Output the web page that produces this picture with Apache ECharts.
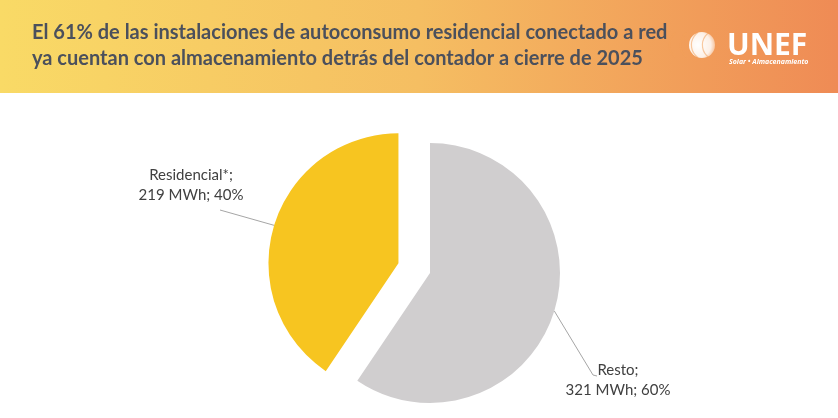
<!DOCTYPE html>
<html>
<head>
<meta charset="utf-8">
<script src="https://cdn.jsdelivr.net/npm/echarts@6/dist/echarts.min.js"></script>
<style>
  html, body { margin: 0; padding: 0; background: #fff; }
  #main { width: 838px; height: 418px; }
</style>
</head>
<body>
<div id="main"></div>
<script>
var categories = ['Resto', 'Residencial*'];
var valuesMWh = [321, 219];
var percents = [60, 40];
var colors = ['#D0CECF', '#F7C520'];

// where the two labels sit (text centre) and where their leader line bends
var labelSpots = [
  { x: 618, y: 380, bend: [593, 375], end: [597, 376] },
  { x: 191, y: 185, bend: [220, 210], end: [220, 210] }
];
var pieCenter = [430, 273];
var pieRadius = 130;
var explodeIdx = 1;
var explodeDist = 33;

// direction of the exploded slice's middle angle (clockwise from 12 o'clock)
var total = valuesMWh.reduce(function (a, b) { return a + b; }, 0);
var before = 0;
for (var k = 0; k < explodeIdx; k++) before += valuesMWh[k];
var midAng = (before + valuesMWh[explodeIdx] / 2) / total * 2 * Math.PI;
var shift = [Math.sin(midAng) * explodeDist, -Math.cos(midAng) * explodeDist];

var myChart = echarts.init(document.getElementById('main'));

// one series per slice: the other slice is drawn transparent so angles stay right
function sliceData(visibleIdx) {
  return categories.map(function (name, i) {
    var on = i === visibleIdx;
    return {
      name: name,
      value: valuesMWh[i],
      pct: percents[i],
      itemStyle: { color: on ? colors[i] : 'rgba(0,0,0,0)' },
      label: { show: on },
      labelLine: { show: on }
    };
  });
}

function pieSeries(visibleIdx, center) {
  return {
    type: 'pie',
    center: center,
    radius: pieRadius,
    startAngle: 90,
    clockwise: true,
    avoidLabelOverlap: false,
    silent: true,
    data: sliceData(visibleIdx),
    label: {
      formatter: function (p) {
        return p.name + ';\n' + p.value + ' MWh; ' + p.data.pct + '%';
      },
      fontFamily: 'Lato, "Open Sans", sans-serif',
      fontSize: 15,
      lineHeight: 20,
      color: '#404040',
      align: 'center'
    },
    labelLine: {
      lineStyle: { color: '#A6A6A6', width: 1 }
    },
    labelLayout: function (params) {
      var s = labelSpots[params.dataIndex];
      var pts = params.labelLinePoints;
      var start = pts ? pts[0] : s.bend;
      return {
        x: s.x,
        y: s.y,
        align: 'center',
        verticalAlign: 'middle',
        labelLinePoints: [start, s.bend, s.end]
      };
    },
    emphasis: { disabled: true }
  };
}

var option = {
  backgroundColor: '#ffffff',
  animation: false,
  graphic: [
    {
      type: 'rect',
      shape: { x: 0, y: 0, width: 838, height: 93 },
      style: {
        fill: new echarts.graphic.LinearGradient(0, 0, 1, 0, [
          { offset: 0, color: '#F9DA66' },
          { offset: 0.5, color: '#F5BE62' },
          { offset: 1, color: '#EF8B55' }
        ])
      },
      z: 0
    },
    {
      type: 'text',
      left: 32,
      top: 20,
      style: {
        text: 'El 61% de las instalaciones de autoconsumo residencial conectado a red\nya cuentan con almacenamiento detrás del contador a cierre de 2025',
        font: 'bold 20px Lato, "Open Sans", sans-serif',
        lineHeight: 26,
        fill: '#4B505C'
      },
      z: 5
    },
    {
      type: 'circle',
      shape: { cx: 702, cy: 45, r: 13 },
      style: {
        fill: new echarts.graphic.RadialGradient(0.35, 0.5, 0.7, [
          { offset: 0, color: 'rgba(255,255,255,1)' },
          { offset: 0.7, color: 'rgba(255,255,255,0.85)' },
          { offset: 1, color: 'rgba(255,255,255,0.3)' }
        ])
      },
      z: 5
    },
    {
      type: 'group',
      z: 6,
      children: [-8, -3, 2, 7].map(function (dx) {
        return {
          type: 'arc',
          shape: { cx: 702 + dx * 2.2, cy: 45, r: 15, startAngle: Math.PI * 0.7, endAngle: Math.PI * 1.3 },
          style: { stroke: 'rgba(243,160,90,0.55)', lineWidth: 1.2, fill: null },
          z: 6
        };
      })
    },
    {
      type: 'text',
      left: 727,
      top: 31,
      style: {
        text: 'UNEF',
        font: 'bold 30px "Open Sans", Lato, sans-serif',
        fill: '#ffffff'
      },
      z: 5
    },
    {
      type: 'text',
      left: 729,
      top: 58,
      style: {
        text: 'Solar • Almacenamiento',
        font: 'italic bold 7px "Open Sans", sans-serif',
        fill: '#ffffff'
      },
      z: 5
    }
  ],
  series: [
    pieSeries(0, pieCenter),
    pieSeries(explodeIdx, [pieCenter[0] + shift[0], pieCenter[1] + shift[1]])
  ]
};

myChart.setOption(option);
</script>
</body>
</html>
